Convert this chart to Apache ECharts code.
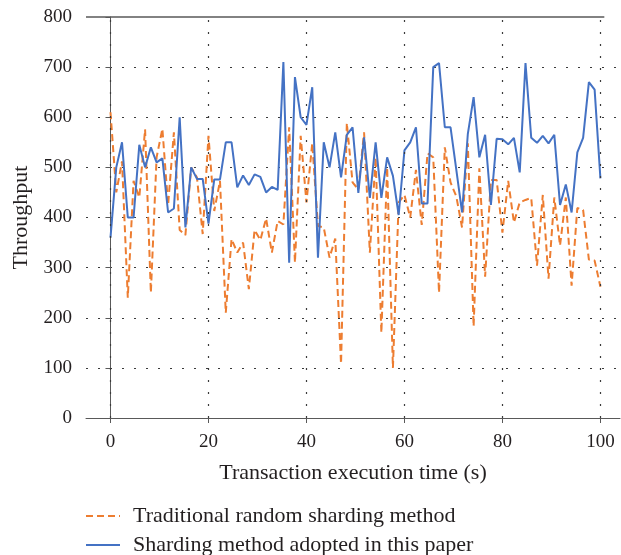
<!DOCTYPE html>
<html>
<head>
<meta charset="utf-8">
<script src="https://cdn.jsdelivr.net/npm/echarts@6/dist/echarts.min.js"></script>
<style>html,body{margin:0;padding:0;background:#fff;}#c{width:621px;height:555px;}</style>
</head>
<body>
<div id="c"></div>
<script>
var times = [0, 1.18, 2.35, 3.53, 4.71, 5.88, 7.06, 8.24, 9.41, 10.59, 11.76, 12.94, 14.12, 15.29, 16.47, 17.65, 18.82, 20, 21.18, 22.35, 23.53, 24.71, 25.88, 27.06, 28.24, 29.41, 30.59, 31.76, 32.94, 34.12, 35.29, 36.47, 37.65, 38.82, 40, 41.18, 42.35, 43.53, 44.71, 45.88, 47.06, 48.24, 49.41, 50.59, 51.76, 52.94, 54.12, 55.29, 56.47, 57.65, 58.82, 60, 61.18, 62.35, 63.53, 64.71, 65.88, 67.06, 68.24, 69.41, 70.59, 71.76, 72.94, 74.12, 75.29, 76.47, 77.65, 78.82, 80, 81.18, 82.35, 83.53, 84.71, 85.88, 87.06, 88.24, 89.41, 90.59, 91.76, 92.94, 94.12, 95.29, 96.47, 97.65, 98.82, 100];

var traditional = [610, 450, 512, 240, 473, 440, 576, 250, 520, 577, 425, 570, 375, 365, 500, 480, 367, 563, 413, 473, 210, 357, 330, 350, 257, 375, 355, 398, 330, 393, 386, 580, 310, 563, 430, 548, 383, 380, 320, 358, 108, 588, 470, 456, 570, 330, 520, 170, 500, 100, 430, 445, 400, 495, 385, 528, 520, 250, 540, 470, 442, 380, 548, 183, 498, 282, 475, 475, 370, 473, 390, 430, 435, 439, 304, 445, 278, 440, 344, 440, 264, 419, 415, 316, 314, 262];

var proposed = [360, 500, 550, 400, 400, 545, 500, 540, 510, 518, 410, 418, 600, 380, 500, 477, 477, 388, 476, 476, 550, 550, 460, 484, 465, 486, 481, 450, 461, 455, 710, 310, 680, 600, 585, 660, 320, 550, 500, 570, 480, 565, 580, 449, 560, 439, 550, 439, 520, 483, 405, 534, 550, 580, 428, 428, 700, 708, 580, 580, 495, 410, 567, 640, 520, 565, 425, 557, 556, 546, 559, 490, 708, 559, 549, 563, 548, 565, 425, 466, 410, 530, 559, 670, 655, 478];

var xTicks = [0, 20, 40, 60, 80, 100];
var seriesNames = ['Traditional random sharding method', 'Sharding method adopted in this paper'];
var xTitle = 'Transaction execution time (s)';
var yTitle = 'Throughput';

function pairs(xs, ys) { return xs.map(function (x, i) { return [x, ys[i]]; }); }

var FONT = 'Liberation Serif';
var TXT = '#231f20';
var AXIS = '#595959';
var GRIDC = '#3a3a3a';

function legendFor(name, top) {
  return {
    orient: 'vertical', left: 85, top: top, padding: 0,
    itemWidth: 34, itemHeight: 14,
    itemStyle: {opacity: 0, borderWidth: 0},
    textStyle: {fontFamily: FONT, fontSize: 22, color: TXT, padding: [0, 0, 0, 8]},
    data: [name]
  };
}

var chart = echarts.init(document.getElementById('c'), null, {renderer: 'canvas'});
chart.setOption({
  animation: false,
  backgroundColor: '#fff',
  grid: {left: 86, top: 17, right: 1, bottom: 137, containLabel: false},
  legend: [legendFor(seriesNames[0], 505), legendFor(seriesNames[1], 534)],
  xAxis: {
    type: 'value', min: -5, max: 104,
    name: xTitle, nameLocation: 'middle', nameGap: 44,
    nameTextStyle: {fontFamily: FONT, fontSize: 22, color: TXT},
    axisLine: {show: true, onZero: false, lineStyle: {color: AXIS, width: 1}},
    axisTick: {show: true, customValues: xTicks, length: 5, inside: false, lineStyle: {color: AXIS}},
    axisLabel: {customValues: xTicks, fontFamily: FONT, fontSize: 19, color: TXT, margin: 15},
    splitLine: {show: false}
  },
  yAxis: {
    type: 'value', min: 0, max: 800, interval: 100,
    name: yTitle, nameLocation: 'middle', nameGap: 54,
    nameTextStyle: {fontFamily: FONT, fontSize: 22, color: TXT},
    axisLine: {show: true, lineStyle: {color: AXIS, width: 1}},
    axisTick: {show: true, length: 5, inside: false, lineStyle: {color: AXIS}},
    axisLabel: {fontFamily: FONT, fontSize: 19, color: TXT, margin: 14},
    splitLine: {show: true, showMinLine: false, showMaxLine: false, lineStyle: {color: GRIDC, type: [2, 10], width: 1.2}}
  },
  series: [
    {
      name: 'grid-helper', type: 'line', data: [], silent: true, z: 1,
      markLine: {
        silent: true, symbol: 'none', animation: false, label: {show: false},
        lineStyle: {color: GRIDC, type: [2, 10], width: 1.2},
        data: xTicks.map(function (v) { return {xAxis: v}; }).concat([
          [{coord: [-5, 800], lineStyle: {color: AXIS, type: 'solid', width: 1.5}}, {coord: [100.8, 800]}]
        ])
      }
    },
    {
      name: seriesNames[0], type: 'line', data: pairs(times, traditional),
      showSymbol: false, symbol: 'none', z: 2,
      lineStyle: {color: '#ED7D31', width: 2, type: [7, 4]},
      itemStyle: {color: '#ED7D31'}
    },
    {
      name: seriesNames[1], type: 'line', data: pairs(times, proposed),
      showSymbol: false, symbol: 'none', z: 3,
      lineStyle: {color: '#4472C4', width: 2},
      itemStyle: {color: '#4472C4'}
    }
  ]
});
</script>
</body>
</html>
